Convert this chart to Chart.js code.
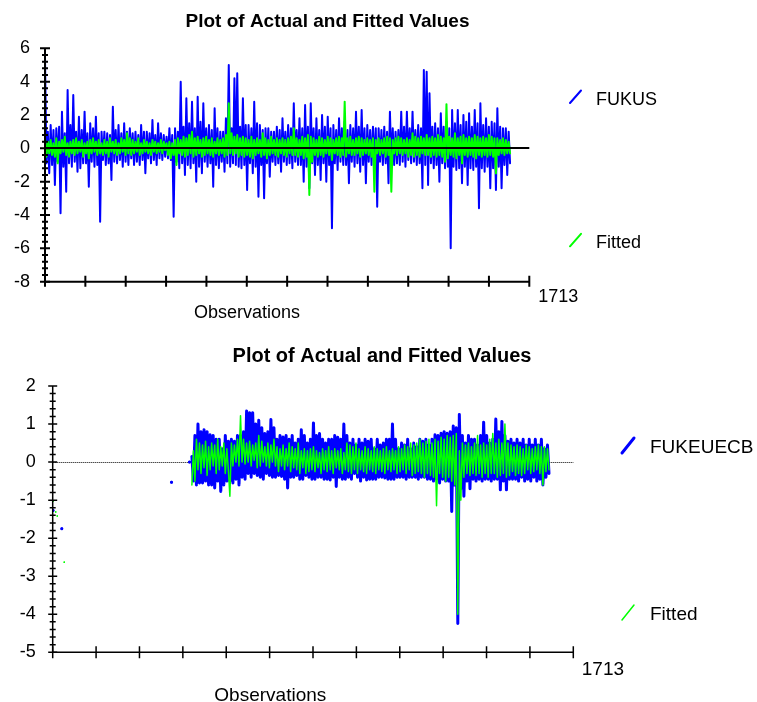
<!DOCTYPE html>
<html>
<head>
<meta charset="utf-8">
<title>Plot of Actual and Fitted Values</title>
<script src="https://cdn.jsdelivr.net/npm/chart.js@4.4.1/dist/chart.umd.min.js"></script>
<style>
  html, body { margin: 0; padding: 0; background: #ffffff; overflow: hidden; }
  #wrap { position: relative; width: 757px; height: 702px; }
  canvas { position: absolute; left: 0; }
  #usChart { top: 0; }
  #euChart { top: 330px; }
</style>
</head>
<body>
<div id="wrap">
  <canvas id="usChart" width="757" height="330"></canvas>
  <canvas id="euChart" width="757" height="372"></canvas>
</div>
<script>
// ---- shared text ----
const CHART_TITLE = 'Plot of Actual and Fitted Values';
const X_AXIS_LABEL = 'Observations';
const N_OBS = 1713;
const END_LABEL = '1713';

// ---- FUKUS panel ----
const US_SERIES_NAMES = ['FUKUS', 'Fitted'];
const US_Y_TICKS = [-8, -6, -4, -2, 0, 2, 4, 6];
const US_START = 0;     // first observation shown
const US_STEP = 5;      // observations between stored values
const US_ACTUAL = [
   5.5, -0.9,  1.0, -1.5,   1.4, -1.0,  1.1, -2.2,   1.2, -0.8,  1.3, -3.9,
   2.2, -1.1,  0.9, -2.6,   3.5, -0.9,  1.4, -1.1,   3.2, -0.8,  1.0, -1.4,
   1.9, -1.2,  1.1, -0.9,   2.2, -0.9,  0.9, -2.3,   1.5, -0.8,  1.2, -1.1,
   1.9, -1.0,  0.9, -4.4,   1.0, -0.7,  1.0, -1.0,   0.9, -0.9,  0.8, -1.9,
   2.5, -0.8,  1.1, -0.9,   1.4, -0.7,  0.9, -1.1,   1.5, -0.8,  1.0, -1.0,
   1.2, -0.6,  0.9, -1.0,   1.0, -0.8,  0.8, -1.0,   1.4, -0.7,  1.0, -1.5,
   1.0, -0.6,  0.9, -0.9,   1.7, -0.7,  0.8, -1.0,   1.5, -0.6,  0.9, -0.7,
   0.8, -0.5,  0.7, -0.6,   1.2, -0.7,  0.8, -4.1,   1.2, -0.8,  1.0, -1.2,
   4.0, -0.9,  1.3, -1.6,   3.0, -1.0,  1.5, -1.2,   2.8, -0.9,  1.2, -2.0,
   3.1, -1.1,  1.6, -1.5,   2.7, -0.8,  1.2, -1.1,   1.4, -0.9,  1.1, -2.3,
   2.4, -1.0,  1.2, -1.2,   1.0, -0.8,  1.0, -1.4,   1.8, -0.9,  5.0, -1.1,
   1.2, -0.9,  4.2, -1.0,   4.5, -1.1,  1.3, -1.2,   3.0, -1.0,  1.4, -2.5,
   1.4, -0.9,  1.2, -1.5,   2.8, -1.1,  1.5, -2.9,   1.4, -1.0,  1.1, -3.0,
   1.2, -0.9,  1.2, -1.7,   1.0, -0.8,  1.0, -1.0,   1.3, -0.9,  1.1, -1.4,
   1.8, -0.8,  1.0, -1.0,   1.4, -0.9,  1.2, -1.2,   2.7, -0.8,  1.1, -1.0,
   1.8, -1.0,  1.2, -2.0,   2.6, -1.1,  1.3, -2.4,   2.7, -0.9,  1.2, -1.6,
   1.8, -1.0,  1.1, -1.9,   2.0, -0.9,  1.3, -2.0,   1.9, -1.0,  1.2, -4.8,
   1.4, -0.9,  1.1, -1.3,   1.8, -0.8,  1.2, -1.0,   1.6, -1.0,  1.1, -2.1,
   1.4, -0.8,  1.2, -1.1,   2.2, -0.9,  1.3, -1.4,   2.3, -1.0,  1.2, -2.1,
   1.4, -0.8,  1.1, -1.0,   1.3, -0.9,  1.2, -3.5,   1.2, -0.8,  1.1, -1.0,
   1.3, -0.9,  1.0, -2.1,   2.2, -0.8,  1.2, -1.0,   1.0, -0.9,  1.1, -1.0,
   2.2, -0.8,  1.3, -1.1,   2.2, -0.7,  1.2, -0.9,   2.2, -0.8,  1.1, -1.0,
   1.4, -0.9,  1.2, -2.4,   4.7, -1.0,  4.6, -2.2,   3.3, -0.9,  1.3, -1.2,
   1.5, -1.0,  1.2, -2.0,   2.1, -0.9,  1.3, -1.2,   1.6, -1.1,  1.2, -6.0,
   2.3, -1.1,  1.5, -1.3,   2.3, -1.2,  1.4, -2.1,   2.0, -1.1,  1.6, -2.2,
   2.1, -1.2,  1.3, -1.3,   2.3, -1.1,  1.5, -3.6,   2.7, -1.2,  1.4, -1.4,
   1.8, -1.1,  1.3, -2.4,   1.6, -1.2,  1.5, -2.5,   2.4, -1.1,  1.3, -2.4,
   1.2, -1.0,  1.2, -1.6,   1.0, -0.9
];
const US_FITTED = [
   0.6, -0.5,  0.4, -0.3,  0.5, -0.4,  0.3, -0.5,  0.6, -0.9,
   0.4, -0.3,  0.5, -0.2,  0.7, -0.4,  0.3, -0.5,  0.4, -0.3,
   0.5, -0.4,  0.6, -0.3,  0.4, -0.2,  0.5, -0.5,  0.3, -0.3,
   0.4, -0.6,  0.5, -0.3,  0.6, -0.2,  0.4, -0.4,  0.5, -0.3,
   0.3, -0.4,  0.5, -0.3,  0.4, -0.5,  0.6, -0.2,  0.4, -0.3,
   0.5, -0.4,  0.3, -0.3,  0.6, -0.2,  0.5, -0.4,  0.9, -0.3,
   0.6, -0.4,  0.5, -0.3,  0.4, -0.2,  0.6, -0.4,  0.3, -0.3,
   0.5, -0.2,  0.4, -0.3,  0.3, -0.4,  0.5, -0.2,  0.4, -0.3,
   0.3, -0.2,  0.5, -0.3,  0.4, -0.1,  0.3, -0.4,  0.4, -0.6,
   0.3, -0.4,  0.5, -1.0,  0.6, -0.3,  0.5, -0.4,  0.7, -0.5,
   0.6, -0.4,  0.8, -0.3,  1.0, -0.5,  0.6, -0.4,  0.7, -0.3,
   0.5, -0.5,  0.6, -0.4,  0.7, -0.3,  0.5, -0.4,  0.6, -0.5,
   0.4, -0.3,  0.6, -0.4,  0.5, -0.3,  0.6, -0.5,  0.8, -0.4,
   2.7, -0.3,  0.9, -0.4,  0.7, -0.3,  0.8, -0.5,  0.6, -0.4,
   0.7, -0.5,  0.6, -0.4,  0.5, -0.5,  0.7, -0.6,  0.5, -0.4,
   0.6, -0.3,  0.5, -0.5,  0.9, -0.4,  0.6, -0.6,  0.5, -0.4,
   0.7, -0.3,  0.5, -0.4,  0.6, -0.5,  0.5, -0.3,  0.6, -0.4,
   0.5, -0.5,  0.6, -0.3,  0.7, -0.4,  1.2, -0.4,  0.6, -0.5,
   0.5, -0.4,  0.7, -0.6,  0.6, -0.5,  0.8, -2.8,  0.7, -0.8,
   0.6, -0.4,  0.5, -0.5,  0.7, -0.4,  0.6, -0.5,  0.5, -0.3,
   0.7, -0.4,  0.6, -0.7,  0.5, -0.3,  0.6, -0.4,  0.7, -0.5,
   0.6, -0.4,  2.8, -0.5,  0.6, -0.3,  0.7, -0.4,  0.5, -0.4,
   0.6, -0.3,  0.7, -0.5,  0.6, -0.4,  0.5, -0.3,  0.6, -0.4,
   0.5, -0.5,  0.6, -2.6,  0.5, -0.3,  0.6, -0.4,  0.5, -0.3,
   0.6, -0.5,  0.7, -0.4,  0.6, -2.6,  0.5, -0.3,  0.6, -0.4,
   0.7, -0.3,  0.6, -0.4,  0.5, -0.3,  0.6, -0.5,  0.5, -0.4,
   0.9, -0.5,  0.7, -0.4,  0.6, -0.5,  0.7, -0.3,  0.6, -0.4,
   0.8, -0.4,  0.6, -0.5,  0.7, -0.4,  0.6, -0.5,  0.8, -0.4,
   0.7, -0.5,  0.6, -0.8,  2.65, -0.6, 0.7, -0.4,  0.6, -0.5,
   0.9, -0.6,  0.6, -0.4,  0.7, -0.9,  0.8, -0.4,  0.6, -0.5,
   0.7, -0.4,  0.6, -0.5,  0.8, -0.6,  0.7, -0.4,  0.6, -0.5,
   0.7, -0.4,  0.6, -0.5,  0.8, -0.4,  0.7, -0.5,  0.6, -1.5,
   0.6, -0.4,  0.5, -0.3,  0.6, -0.4,  0.5, -0.3,  0.4, -0.3
];

// ---- FUKEUECB panel ----
const EU_SERIES_NAMES = ['FUKEUECB', 'Fitted'];
const EU_Y_TICKS = [-5, -4, -3, -2, -1, 0, 1, 2];
// scattered early observations (isolated values)
const EU_ACTUAL_EARLY_OBS = [1, 30, 391, 450];
const EU_ACTUAL_EARLY = [-1.27, -1.75, -0.53, 0.0];
const EU_FITTED_EARLY_OBS = [1, 10, 15, 38];
const EU_FITTED_EARLY = [-1.03, -1.31, -1.42, -2.63];
// continuous block
const EU_START = 458;
const EU_STEP = 5;
const EU_ACTUAL = [
   0.15, -0.5,  0.7,  -0.6,    1.0,  -0.55, 0.8,  -0.55,   0.85, -0.5,  0.8,  -0.6,
   0.72, -0.6,  0.7,  -0.68,   0.6,  -0.5,  0.6,  -0.77,   0.35, -0.6,  0.7,  -0.5,
   0.55, -0.5,  0.6,  -0.55,   0.55, -0.45, 0.7,  -0.6,    0.7,  -0.4,  0.8,  -0.45,
   1.34, -0.3,  1.3,  -0.4,    1.3,  -0.3,  1.0,  -0.35,   1.1,  -0.4,  0.9,  -0.45,
   0.75, -0.3,  0.8,  -0.35,   1.12, -0.4,  0.9,  -0.4,    0.6,  -0.35, 0.7,  -0.38,
   0.66, -0.45, 0.7,  -0.68,   0.6,  -0.4,  0.7,  -0.4,    0.5,  -0.35, 0.6,  -0.45,
   0.85, -0.45, 0.7,  -0.35,   0.5,  -0.4,  0.6,  -0.45,   1.03, -0.45, 0.7,  -0.4,
   0.75, -0.4,  0.6,  -0.45,   0.5,  -0.45, 0.6,  -0.47,   0.6,  -0.4,  0.7,  -0.64,
   0.65, -0.4,  0.6,  -0.45,   1.0,  -0.45, 0.7,  -0.4,    0.5,  -0.45, 0.6,  -0.3,
   0.45, -0.4,  0.6,  -0.5,    0.5,  -0.4,  0.6,  -0.47,   0.55, -0.45, 0.6,  -0.45,
   0.35, -0.45, 0.6,  -0.4,    0.45, -0.4,  0.5,  -0.42,   0.6,  -0.45, 0.6,  -0.45,
   1.0,  -0.45, 0.6,  -0.4,    0.35, -0.4,  0.5,  -0.4,    0.45, -0.45, 0.6,  -0.4,
   0.35, -0.4,  0.5,  -0.4,    0.4,  -0.45, 0.6,  -0.4,    0.55, -0.4,  0.6,  -0.45,
   0.45, -0.45, 0.6,  -0.5,    0.72, -0.45, 0.7,  -0.55,   0.76, -0.45, 0.8,  -0.5,
   0.76, -0.5,  0.8,  -1.3,    0.95, -0.6,  0.9,  -4.24,   1.25, -0.7,  0.7,  -0.9,
   0.5,  -0.5,  0.7,  -0.7,    0.6,  -0.45, 0.6,  -0.5,    0.45, -0.45, 0.7,  -0.5,
   1.05, -0.45, 0.7,  -0.45,   0.5,  -0.5,  0.6,  -0.45,   1.13, -0.45, 0.8,  -0.73,
   1.07, -0.5,  0.7,  -0.73,   0.55, -0.45, 0.6,  -0.45,   0.5,  -0.45, 0.6,  -0.5,
   0.5,  -0.4,  0.6,  -0.5,    0.45, -0.45, 0.6,  -0.5,    0.45, -0.4,  0.6,  -0.5,
   0.45, -0.45, 0.6,  -0.6,    0.35, -0.4,  0.45, -0.3
];
const EU_FITTED = [
  -0.6,  0.3,  -0.5,  0.6,  -0.2,  0.5,  -0.3,  0.45, -0.15, 0.55,
  -0.35, 0.4,  -0.2,  0.5,  -0.1,  0.45, -0.3,  0.6,  -0.2,  0.4,
  -0.1,  0.5,  -0.3,  0.35, -0.2, -0.9,   0.5, -0.1,   0.45, 0.0,
   0.6, -0.1,   1.22, 0.0,   0.6, -0.05,  0.5,  0.0,   0.55, -0.1,
   0.45, 0.05,  0.5, -0.15,  0.7, -0.1,   0.55, 0.0,   0.4, -0.1,
   0.5, -0.15,  0.45, 0.0,   0.6, -0.1,   0.4, -0.25,  0.35, -0.1,
   0.45, -0.2,  0.35, -0.1,  0.5, -0.25,  0.4, -0.15,  0.35, -0.2,
   0.5, -0.3,   0.3, -0.15,  0.35, -0.3,  0.3, -0.25,  0.35, -0.2,
   0.4, -0.25,  0.3, -0.15,  0.25, -0.3,  0.35, -0.2,  0.3, -0.25,
   0.4, -0.2,   0.3, -0.3,   0.35, -0.15, 0.3, -0.2,   0.35, -0.3,
   0.25, -0.2,  0.5, -0.25,  0.45, -0.3,  0.4, -0.2,   0.5, -0.3,
   0.35, -0.2,  0.3, -0.25,  0.4, -0.3,   0.35, -0.2,  0.3, -0.25,
   0.4, -0.3,   0.35, -0.2,  0.3, -0.25,  0.35, -0.3,  0.4, -0.2,
   0.3, -0.25,  0.35, -0.2,  0.3, -0.3,   0.4, -0.25,  0.35, -0.2,
   0.45, -0.3,  0.4, -0.2,   0.5, -0.35,  0.45, -0.3,  0.5, -0.25,
   0.6, -0.3,   0.5, -0.4,   0.55, -0.3,  0.6, -0.35,  0.5, -0.4,
   0.6, -1.15,  0.55, -0.3,  0.65, -0.4,  0.6, -0.5,   0.7, -0.4,
   0.65, -0.5,  0.7, -0.6,   0.75, -4.0,  0.3, -1.0,   0.5, -0.4,
   0.45, -0.3,  0.5, -0.35,  0.4, -0.3,   0.5, -0.35,  0.7, -0.3,
   0.45, -0.4,  0.5, -0.3,   0.45, -0.4,  0.6, -0.3,   0.75, -0.3,
   0.5, -0.4,   0.6, -0.35,  0.5, -0.3,   1.0, -0.4,   0.5, -0.35,
   0.45, -0.25, 0.4, -0.35,  0.45, -0.3,  0.4, -0.35,  0.35, -0.3,
   0.45, -0.2,  0.4, -0.3,   0.35, -0.25, 0.4, -0.2,   0.45, -0.3,
   0.4, -0.6,   0.4, -0.25,  0.35, -0.2
];

const BLUE = '#0000ff';
const GREEN = '#00ff00';
const FONT = "'Liberation Sans', Arial, Helvetica, sans-serif";

// Turn stored values into {x, y} points; isolated values are separated by gaps.
function buildPoints(earlyObs, earlyVals, start, step, values) {
  const pts = [];
  earlyObs.forEach((o, k) => {
    pts.push({ x: o, y: earlyVals[k] });
    pts.push({ x: o + 0.5, y: null });
  });
  values.forEach((v, k) => pts.push({ x: start + k * step, y: v }));
  return pts;
}

// A value with no neighbours is shown as a dot so it stays visible.
function isolatedRadius(r) {
  return (ctx) => {
    const d = ctx.dataset.data;
    const i = ctx.dataIndex;
    const p = d[i];
    if (!p || p.y == null) return 0;
    const prevGap = i === 0 || d[i - 1].y == null;
    const nextGap = i === d.length - 1 || d[i + 1].y == null;
    return prevGap && nextGap ? r : 0;
  };
}

// Draws axes with crossing tick marks, minor ticks, zero line, title, legend and axis notes.
const panelFrame = {
  id: 'panelFrame',
  beforeDatasetsDraw(chart, _args, o) {
    if (o.zero.dash) drawZero(chart, o.zero);
  },
  afterDatasetsDraw(chart, _args, o) {
    if (!o.zero.dash) drawZero(chart, o.zero);
    drawAxes(chart, o.axes);
    drawTexts(chart, o);
  }
};

function drawZero(chart, z) {
  const { ctx, chartArea: a, scales: { y } } = chart;
  const py = Math.round(y.getPixelForValue(0)) + (z.width % 2 ? 0.5 : 0);
  ctx.save();
  ctx.strokeStyle = z.color;
  ctx.lineWidth = z.width;
  ctx.setLineDash(z.dash || []);
  ctx.beginPath();
  ctx.moveTo(a.left, py);
  ctx.lineTo(a.right, py);
  ctx.stroke();
  ctx.restore();
}

function drawAxes(chart, ax) {
  const { ctx, chartArea: a, scales: { x, y } } = chart;
  ctx.save();
  ctx.strokeStyle = '#000';
  ctx.lineWidth = ax.width;
  ctx.lineCap = 'butt';
  ctx.beginPath();
  ctx.moveTo(a.left, a.top);
  ctx.lineTo(a.left, a.bottom);
  ctx.moveTo(a.left, a.bottom);
  ctx.lineTo(a.right, a.bottom);
  ctx.stroke();

  ctx.lineWidth = ax.tickWidth;
  ctx.beginPath();
  // minor y ticks
  const n = Math.round((y.max - y.min) / ax.minorStep);
  for (let k = 0; k <= n; k++) {
    const v = y.min + k * ax.minorStep;
    const py = y.getPixelForValue(v);
    ctx.moveTo(a.left - ax.minorLen, py);
    ctx.lineTo(a.left + ax.minorLen, py);
  }
  // major y ticks
  y.ticks.forEach(t => {
    const py = y.getPixelForValue(t.value);
    ctx.moveTo(a.left - ax.majorLen, py);
    ctx.lineTo(a.left + ax.majorLen, py);
  });
  // x ticks
  for (let k = 0; k <= ax.xDivisions; k++) {
    const px = x.getPixelForValue(x.min + k * (x.max - x.min) / ax.xDivisions);
    ctx.moveTo(px, a.bottom - ax.xTickUp);
    ctx.lineTo(px, a.bottom + ax.xTickDown);
  }
  ctx.stroke();
  ctx.restore();
}

function drawTexts(chart, o) {
  const { ctx, scales: { x } } = chart;
  ctx.save();
  ctx.fillStyle = '#000';
  ctx.textBaseline = 'alphabetic';

  // title
  ctx.font = 'bold ' + o.title.size + 'px ' + FONT;
  ctx.textAlign = 'center';
  ctx.fillText(o.title.text, o.title.x, o.title.baseline);

  // end-of-axis observation count
  ctx.font = o.textSize + 'px ' + FONT;
  ctx.textAlign = 'left';
  ctx.fillText(o.endLabel.text, x.getPixelForValue(x.max) + o.endLabel.dx, o.endLabel.baseline);

  // x axis caption
  ctx.textAlign = 'center';
  ctx.fillText(o.xCaption.text, x.getPixelForValue(x.min + o.xCaption.at * (x.max - x.min)), o.xCaption.baseline);

  // legend: a short slanted stroke followed by the series name
  ctx.textAlign = 'left';
  chart.data.datasets.forEach((ds, i) => {
    const base = o.legend.baselines[i];
    ctx.strokeStyle = ds.borderColor;
    ctx.lineWidth = o.legend.strokeWidths[i];
    ctx.lineCap = 'round';
    ctx.beginPath();
    ctx.moveTo(o.legend.x0, base - o.legend.rise0);
    ctx.lineTo(o.legend.x1, base - o.legend.rise1);
    ctx.stroke();
    ctx.fillText(ds.label, o.legend.textX, base);
  });
  ctx.restore();
}

function yAxis(ticks, width, padding, size) {
  return {
    min: ticks[0],
    max: ticks[ticks.length - 1],
    grid: { display: false, drawTicks: false },
    border: { display: false },
    ticks: {
      color: '#000',
      padding: padding,
      font: { family: FONT, size: size },
      callback: v => String(v)
    },
    afterBuildTicks: s => { s.ticks = ticks.map(v => ({ value: v })); },
    afterFit: s => { s.width = width; }
  };
}

function lineSet(label, color, width, data, order, dotR) {
  return {
    label: label,
    data: data,
    borderColor: color,
    backgroundColor: color,
    borderWidth: width,
    borderJoinStyle: 'round',
    borderCapStyle: 'round',
    tension: 0,
    spanGaps: false,
    fill: false,
    order: order,
    pointRadius: isolatedRadius(dotR),
    pointHoverRadius: 0,
    pointBorderWidth: 0,
    pointBackgroundColor: color
  };
}

Chart.defaults.font.family = FONT;

// ---- FUKUS chart ----
new Chart(document.getElementById('usChart'), {
  type: 'line',
  data: {
    datasets: [
      lineSet(US_SERIES_NAMES[0], BLUE, 2, buildPoints([], [], US_START, US_STEP, US_ACTUAL), 1, 1.3),
      lineSet(US_SERIES_NAMES[1], GREEN, 2, buildPoints([], [], US_START, US_STEP, US_FITTED), 0, 0.8)
    ]
  },
  options: {
    responsive: false,
    animation: false,
    devicePixelRatio: 1,
    events: [],
    layout: { padding: { top: 48.3, right: 227.7, bottom: 48.3, left: 0 } },
    scales: {
      x: { type: 'linear', min: 0, max: N_OBS, display: false },
      y: yAxis(US_Y_TICKS, 45, 15, 18)
    },
    plugins: {
      legend: { display: false },
      title: { display: false },
      tooltip: { enabled: false },
      panelFrame: {
        zero: { color: '#000', width: 2, dash: null },
        axes: { width: 2, tickWidth: 2, majorLen: 5, minorLen: 3, minorStep: 0.4,
                xDivisions: 12, xTickUp: 6, xTickDown: 5 },
        title: { text: CHART_TITLE, size: 19, x: 327.5, baseline: 27.3 },
        textSize: 18,
        endLabel: { text: END_LABEL, dx: 9, baseline: 301.5 },
        xCaption: { text: X_AXIS_LABEL, at: 0.417, baseline: 318 },
        legend: { x0: 570, x1: 581, rise0: 2, rise1: 14.5, textX: 596,
                  baselines: [105, 248.3], strokeWidths: [2, 2] }
      }
    }
  },
  plugins: [panelFrame]
});

// ---- FUKEUECB chart ----
new Chart(document.getElementById('euChart'), {
  type: 'line',
  data: {
    datasets: [
      lineSet(EU_SERIES_NAMES[0], BLUE, 3, buildPoints(EU_ACTUAL_EARLY_OBS, EU_ACTUAL_EARLY, EU_START, EU_STEP, EU_ACTUAL), 1, 1.4),
      lineSet(EU_SERIES_NAMES[1], GREEN, 1.5, buildPoints(EU_FITTED_EARLY_OBS, EU_FITTED_EARLY, EU_START, EU_STEP, EU_FITTED), 0, 0.8)
    ]
  },
  options: {
    responsive: false,
    animation: false,
    devicePixelRatio: 1,
    events: [],
    layout: { padding: { top: 56, right: 183.7, bottom: 49.7, left: 0 } },
    scales: {
      x: { type: 'linear', min: 0, max: N_OBS, display: false },
      y: yAxis(EU_Y_TICKS, 52.7, 17, 18)
    },
    plugins: {
      legend: { display: false },
      title: { display: false },
      tooltip: { enabled: false },
      panelFrame: {
        zero: { color: '#000', width: 1, dash: [1, 1] },
        axes: { width: 1.5, tickWidth: 1.5, majorLen: 4.5, minorLen: 3, minorStep: 0.2,
                xDivisions: 12, xTickUp: 6, xTickDown: 6 },
        title: { text: CHART_TITLE, size: 20, x: 382, baseline: 31.7 },
        textSize: 19,
        endLabel: { text: END_LABEL, dx: 8.5, baseline: 345 },
        xCaption: { text: X_AXIS_LABEL, at: 0.418, baseline: 371 },
        legend: { x0: 622, x1: 634, rise0: 0, rise1: 15, textX: 650,
                  baselines: [123, 290], strokeWidths: [3, 1.5] }
      }
    }
  },
  plugins: [panelFrame]
});
</script>
</body>
</html>
